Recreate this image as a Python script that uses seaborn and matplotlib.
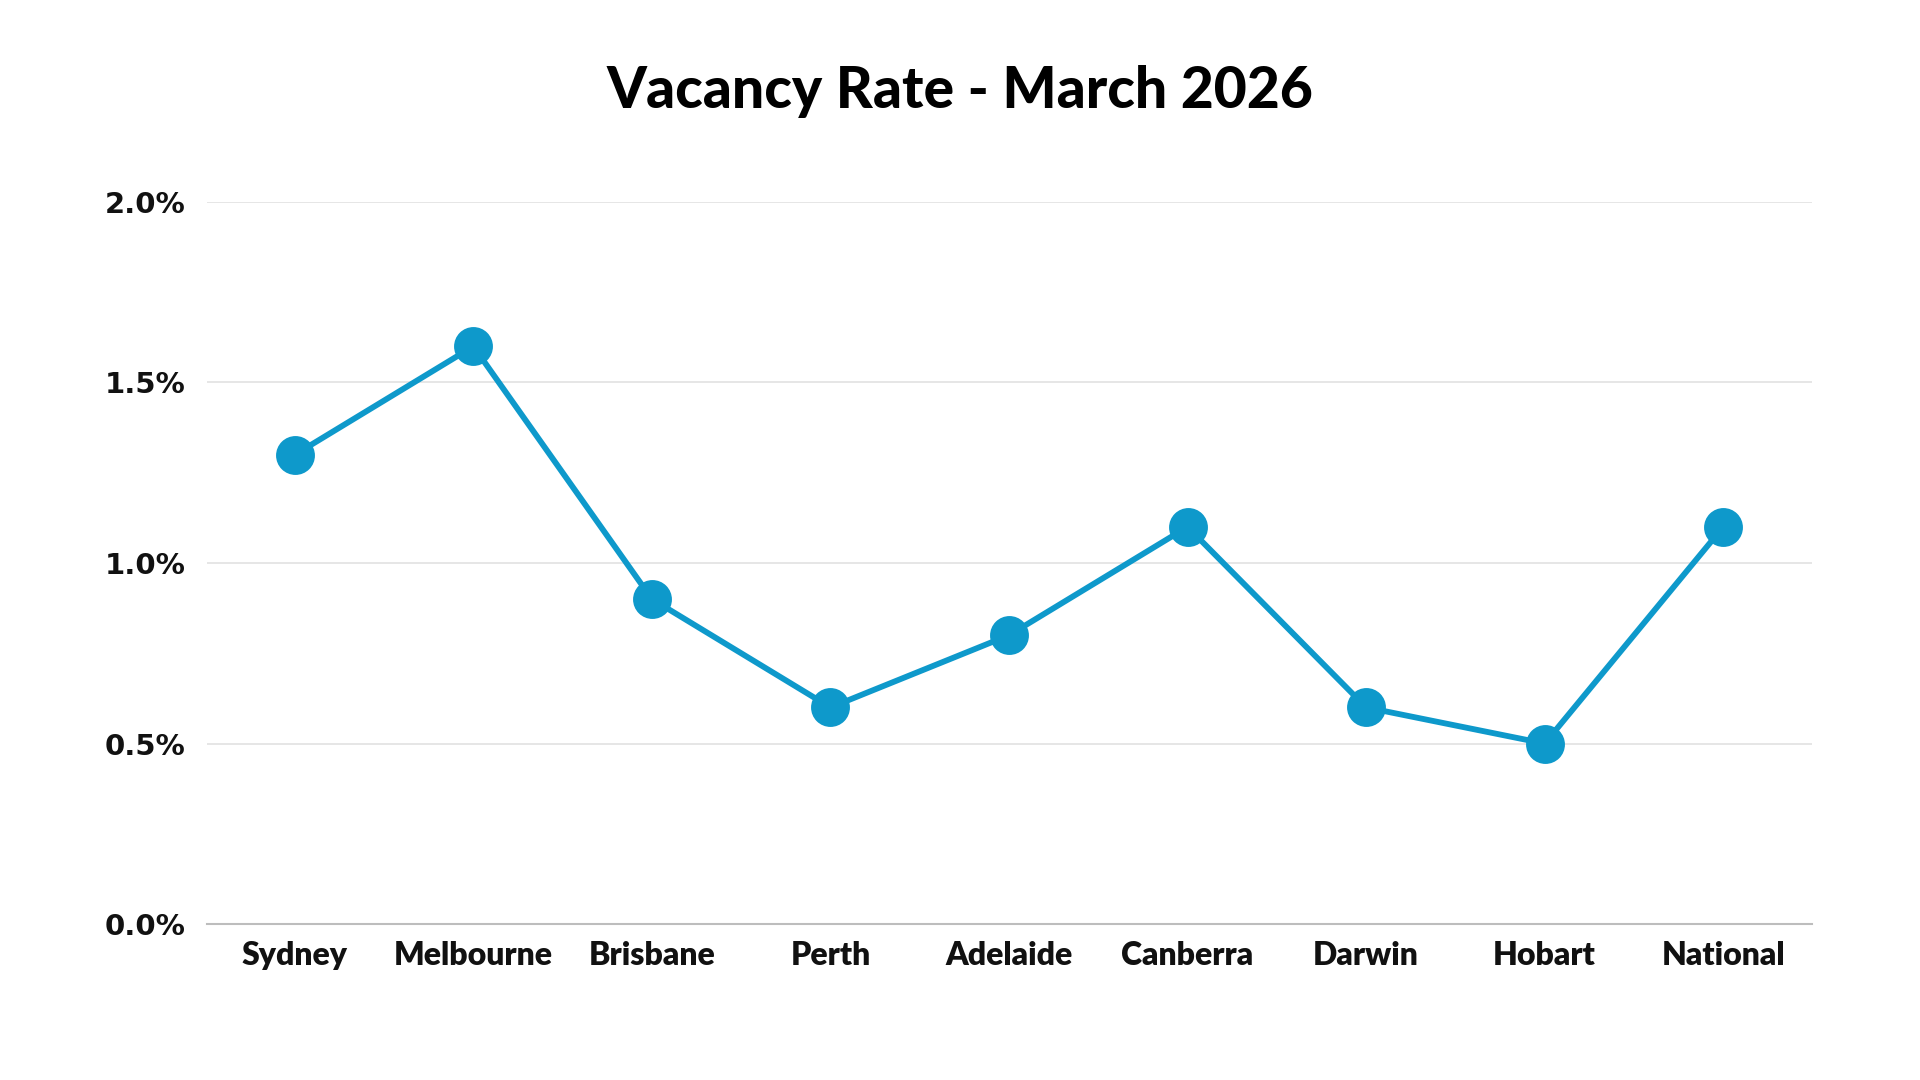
import matplotlib
matplotlib.use("Agg")
import matplotlib.pyplot as plt
import matplotlib.ticker as mticker
import pandas as pd
import seaborn as sns

cities = ["Sydney", "Melbourne", "Brisbane", "Perth", "Adelaide",
          "Canberra", "Darwin", "Hobart", "National"]
vacancy_rate = [1.3, 1.6, 0.9, 0.6, 0.8, 1.1, 0.6, 0.5, 1.1]
y_ticks = [0.0, 0.5, 1.0, 1.5, 2.0]

line_color = "#0E99CB"

sns.set_theme(style="white")
plt.rcParams["font.family"] = ["Lato", "DejaVu Sans"]

df = pd.DataFrame({"city": cities, "rate": vacancy_rate})
df["pos"] = range(len(cities))

fig = plt.figure(figsize=(19.2, 10.8), dpi=100)
ax = fig.add_axes([0.108, 0.1444, 0.836, 0.6686])

sns.lineplot(data=df, x="pos", y="rate", color=line_color, linewidth=4.2,
             marker="o", markersize=28, markeredgewidth=0, ax=ax)
for line in ax.lines:
    line.set_clip_on(False)

ax.set_xlim(-0.49, 8.5)
ax.set_ylim(0, 2.0)
ax.set_xticks(df["pos"])
ax.set_xticklabels(cities)
ax.set_yticks(y_ticks)
ax.yaxis.set_major_formatter(mticker.FuncFormatter(lambda v, _: f"{v:.1f}%"))
ax.set_xlabel("")
ax.set_ylabel("")

ax.grid(axis="y", color="#E2E2E2", linewidth=1.2)
ax.grid(axis="x", visible=False)
for side in ["top", "right", "left"]:
    ax.spines[side].set_visible(False)
ax.spines["bottom"].set_color("#BDBDBD")
ax.spines["bottom"].set_linewidth(1.5)
ax.tick_params(axis="both", length=0, labelcolor="#111111")
ax.tick_params(axis="x", pad=12, labelsize=23)
ax.tick_params(axis="y", pad=16, labelsize=21)
for lbl in ax.get_xticklabels():
    lbl.set_fontweight("heavy")
for lbl in ax.get_yticklabels():
    lbl.set_fontweight("bold")
    lbl.set_family(["DejaVu Sans"])

fig.text(0.5, 0.915, "Vacancy Rate - March 2026", ha="center", va="center",
         fontsize=41, fontweight="black", color="#000000")

fig.savefig("out.png", dpi=100, facecolor="white")
